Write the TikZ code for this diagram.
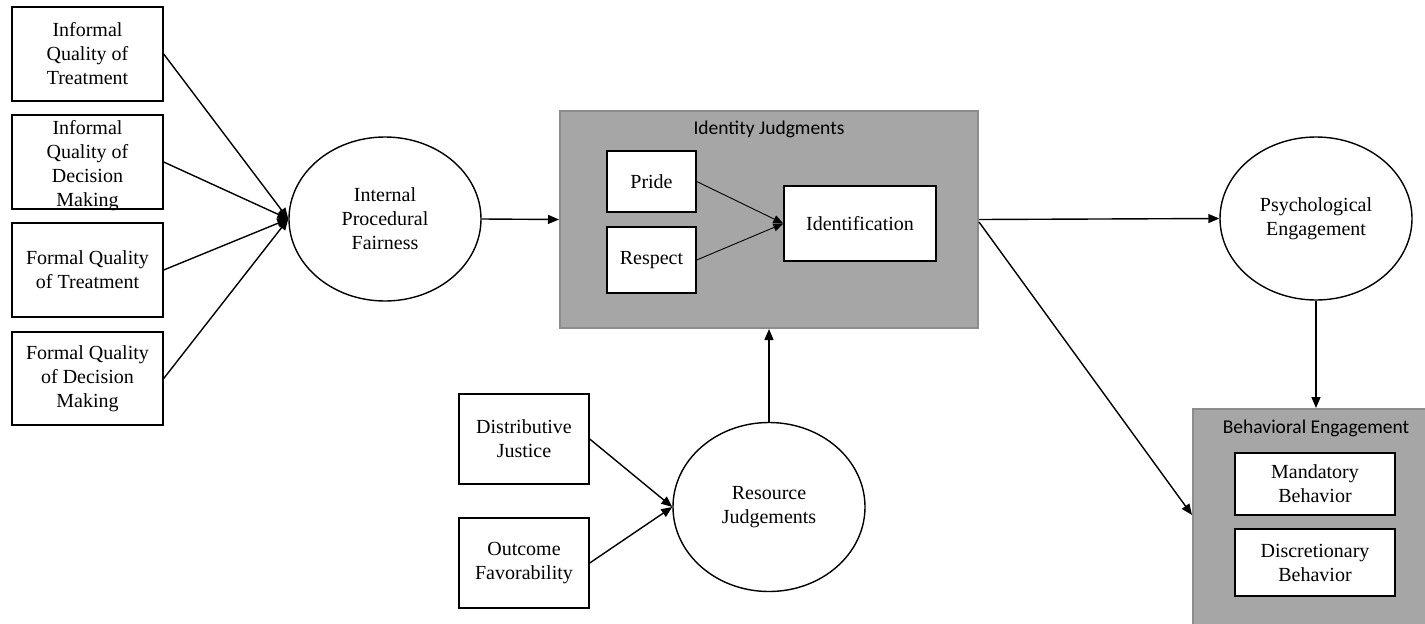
\documentclass[tikz,border=0pt]{standalone}
\usepackage{fontspec}
\setmainfont{Liberation Serif}
\newfontfamily\titlefont{Carlito}
\usetikzlibrary{shapes.geometric,arrows.meta,positioning}
\definecolor{panelfill}{RGB}{166,166,166}
\definecolor{panelborder}{RGB}{140,140,140}
\tikzset{
  lbl/.style={font=\rmfamily\fontsize{20}{24}\selectfont, align=center, inner sep=0pt},
  box/.style={draw, line width=1.4pt, fill=white, lbl},
  oval/.style={ellipse, draw, line width=1.4pt, fill=white, lbl},
  panel/.style={draw=panelborder, fill=panelfill, line width=2pt, inner sep=0pt},
  paneltitle/.style={font=\titlefont\fontsize{19.5}{23}\selectfont, inner sep=0pt},
  conn/.style={line width=1.4pt, -{Triangle[length=11pt,width=9pt]}},
  thinconn/.style={line width=0.9pt, -{Triangle[length=10pt,width=8pt]}},
}
\begin{document}
\begin{tikzpicture}[x=1pt,y=-1pt]
\useasboundingbox (0,0) rectangle (1425,624);
\clip (0,0) rectangle (1425,624);

% antecedents of procedural fairness
\node[box, minimum width=151pt, minimum height=94pt] (iqt) at (87.5,54) {Informal\\Quality of\\Treatment};
\node[box, minimum width=151pt, minimum height=94pt] (iqd) at (87.5,162) {};
\node[lbl] (iqdtext) at (87.5,166) {Informal\\Quality of\\Decision\\Making};
\node[box, minimum width=151pt, minimum height=94pt] (fqt) at (87.5,270) {Formal Quality\\of Treatment};
\node[box, minimum width=151pt, minimum height=93pt] (fqd) at (87.5,378.5) {Formal Quality\\of Decision\\Making};

\node[oval, minimum width=192pt, minimum height=164pt] (ifp) at (385,219) {Internal\\Procedural\\Fairness};

% identity judgments panel
\node[panel, minimum width=418pt, minimum height=217pt] (idj) at (769,219.5) {};
\node[paneltitle] (idjtitle) at (769,129) {Identity Judgments};
\node[box, minimum width=89pt, minimum height=61pt] (pride) at (651.5,181.5) {Pride};
\node[box, minimum width=89pt, minimum height=66pt] (respect) at (651.5,260) {Respect};
\node[box, minimum width=152pt, minimum height=75pt] (ident) at (860,223.5) {Identification};

% resource judgments
\node[box, minimum width=130pt, minimum height=90pt] (dj) at (524,439) {Distributive\\Justice};
\node[box, minimum width=130pt, minimum height=90pt] (of) at (524,563) {Outcome\\Favorability};
\node[oval, minimum width=192pt, minimum height=169pt] (rj) at (769,507) {Resource\\Judgements};

% engagement
\node[oval, minimum width=192pt, minimum height=163pt] (pe) at (1316,218.5) {Psychological\\Engagement};
\node[panel, minimum width=246pt, minimum height=231pt] (be) at (1316,524.5) {};
\node[paneltitle] (betitle) at (1316,428) {Behavioral Engagement};
\node[box, minimum width=160pt, minimum height=62pt] (mb) at (1315,484) {Mandatory\\Behavior};
\node[box, minimum width=160pt, minimum height=67pt] (db) at (1315,562.5) {Discretionary\\Behavior};

% connectors
\foreach \src in {iqt,iqd,fqt,fqd}
  \draw[conn] (\src.east) -- (ifp.west);
\draw[conn] (ifp.east) -- (idj.west);
\draw[thinconn] (pride.east) -- (ident.west);
\draw[thinconn] (respect.east) -- (ident.west);
\draw[conn] (dj.east) -- (rj.west);
\draw[conn] (of.east) -- (rj.west);
\draw[conn] (rj.north) -- (idj.south);
\draw[conn] (idj.east) -- (pe.west);
\draw[conn] ([yshift=-2.5pt]idj.east) -- ([yshift=9.5pt]be.west);
\draw[conn] (pe.south) -- (be.north);
\end{tikzpicture}
\end{document}
